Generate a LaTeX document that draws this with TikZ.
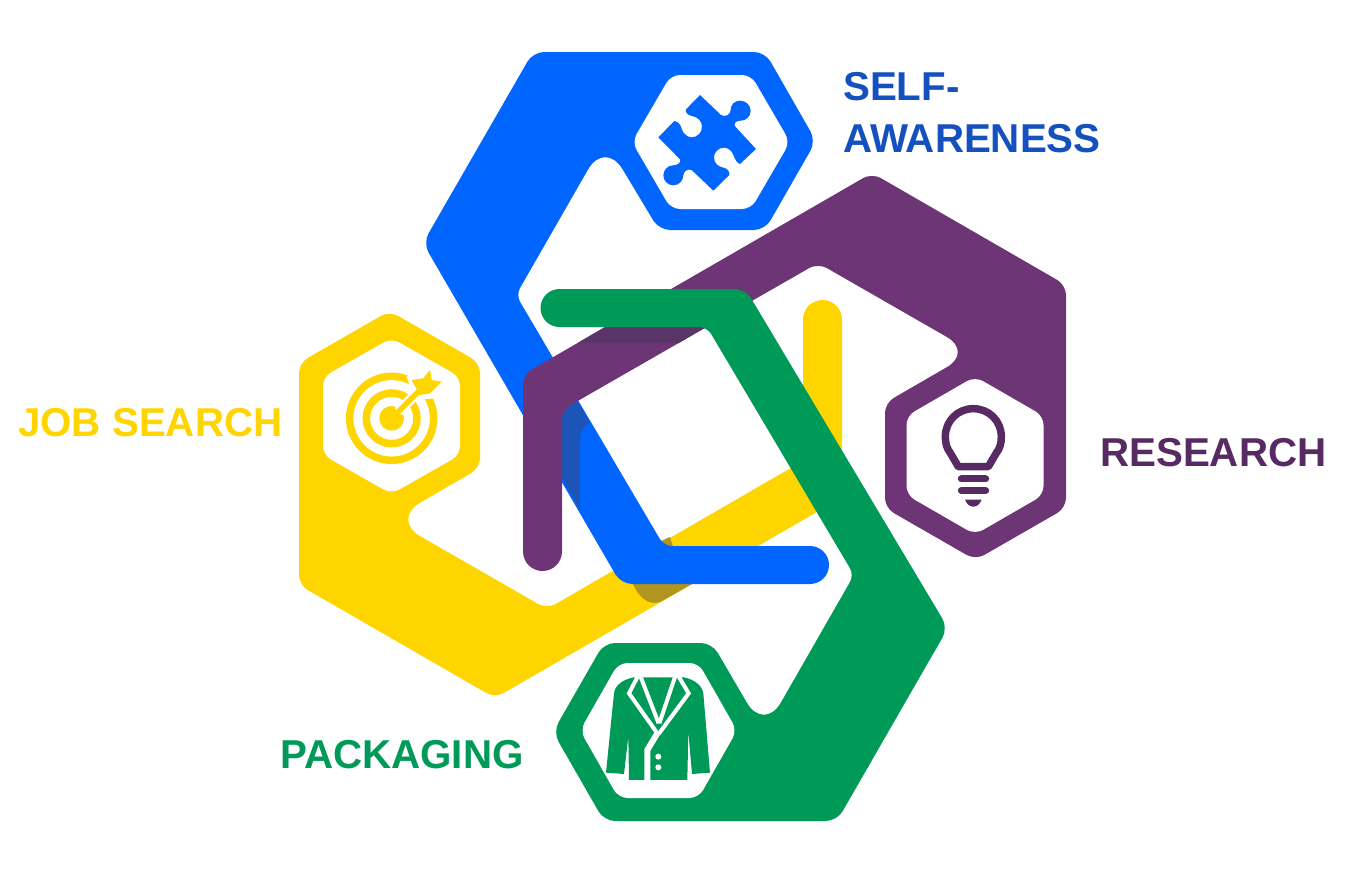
\documentclass[tikz,border=0pt]{standalone}
\usepackage{fontspec}
\setmainfont{Liberation Sans}
\definecolor{cblue}{HTML}{0066FF}
\definecolor{cblued}{HTML}{1C54B8}
\definecolor{cpurple}{HTML}{6D3575}
\definecolor{cpurpled}{HTML}{5A3568}
\definecolor{cyellow}{HTML}{FFD500}
\definecolor{cyellowd}{HTML}{B09520}
\definecolor{cgreen}{HTML}{009A58}
\definecolor{tblue}{HTML}{1450BE}
\definecolor{tpurple}{HTML}{572A63}
\tikzset{
  lab/.style={anchor=base west,inner sep=0pt,font=\fontsize{40.3}{41}\selectfont\bfseries},
  hole/.style={fill=white,rounded corners=9pt},
}
\begin{document}
\begin{tikzpicture}[x=1pt,y=-1pt]
\useasboundingbox (0,0) rectangle (1366,870);
% YELLOW
\fill[cyellow] (822.5,319.5) [rounded corners=0pt] -- (842,319.5) -- (842,497.5)
  [rounded corners=10pt] -- (495,698) -- (299,585) -- (299,363) -- (389.5,311) -- (480,363) -- (480,468)
  [rounded corners=34pt] -- (391,519.5)
  [rounded corners=10pt] -- (547,609)
  [rounded corners=0pt] -- (803,461) -- (803,319.5) -- cycle;
\fill[cyellow] (822.5,319.5) circle[radius=19.5];
\fill[hole] (391.5,338) -- (460,377) -- (460,455) -- (391.5,494) -- (323,455) -- (323,377) -- cycle;
\fill[cyellowd] (633,584) .. controls (638,596) and (648,606) .. (660,602) -- (693,583.5) -- cycle;
\fill[cyellowd] (661,541) -- (670,537) -- (673,547) -- (665,547) -- cycle;
% BLUE
\fill[cblue] (810,546) [rounded corners=0pt] -- (810,584)
  [rounded corners=11pt] -- (621,584) -- (423,243) -- (533,52) -- (765,52) -- (816,141) -- (765,230) -- (659,230)
  [rounded corners=34pt] -- (605,140)
  [rounded corners=8pt] -- (516,295) -- (664,546)
  [rounded corners=0pt] -- cycle;
\fill[cblue] (810,565) circle[radius=19];
\fill[hole] (671,75) -- (751,75) -- (790,142) -- (751,209) -- (671,209) -- (632,142) -- cycle;
\fill[cblued] (562,478) -- (562,415) .. controls (562,408) and (570,404) .. (577.5,401) -- (590,423)
  .. controls (584,426) and (580,431) .. (580,438) -- (580,510) -- cycle;
% PURPLE
\fill[cpurple] (523,552) [rounded corners=10pt] -- (523,374.5) -- (872,173) -- (1066,285) -- (1066,508)
  -- (975.5,560) -- (885,508) -- (885,403)
  [rounded corners=30pt] -- (973,352)
  [rounded corners=10pt] -- (818,263) -- (562,410)
  [rounded corners=0pt] -- (562,552) -- cycle;
\fill[cpurple] (542.5,551.5) circle[radius=19.5];
\fill[hole] (975,376.5) -- (1043.5,416) -- (1043.5,495) -- (975,534.5) -- (906.5,495) -- (906.5,416) -- cycle;
\fill[cpurpled] (605,327) -- (706,327) -- (679,343) -- (577.6,343) -- cycle;
% GREEN
\fill[cgreen] (559.5,289) [rounded corners=11pt] -- (745.5,289) -- (948,628) -- (837,821) -- (604,821) -- (553,732) -- (604,643) -- (712,643)
  [rounded corners=34pt] -- (764,732)
  [rounded corners=8pt] -- (854,575) -- (707,327)
  [rounded corners=0pt] -- (559.5,327) -- cycle;
\fill[cgreen] (559.5,308) circle[radius=19];
\fill[hole] (618.5,663) -- (698.5,663) -- (737,730.5) -- (698.5,798) -- (618.5,798) -- (580,730.5) -- cycle;
% puzzle
\begin{scope}[shift={(620,60)},scale=0.3333]
\fill[cblue] (240,105) -- (303,165) .. controls (315,172) and (332,165) .. (332,150)
  .. controls (332,133) and (345,122) .. (360,122) .. controls (378,122) and (392,136) .. (392,152)
  .. controls (392,170) and (378,182) .. (362,182) .. controls (350,182) and (338,190) .. (346,200)
  -- (408,267) -- (360,312) .. controls (348,308) and (345,295) .. (340,285)
  .. controls (335,270) and (322,263) .. (312,263) .. controls (295,263) and (282,277) .. (282,292)
  .. controls (282,310) and (295,320) .. (310,323) .. controls (322,325) and (330,335) .. (328,345)
  -- (280,392) -- (215,330) .. controls (203,325) and (190,335) .. (190,346)
  .. controls (190,362) and (177,376) .. (160,376) .. controls (143,376) and (130,362) .. (130,346)
  .. controls (130,330) and (143,316) .. (160,316) .. controls (172,316) and (185,308) .. (180,298)
  -- (115,232) -- (163,183) .. controls (175,185) and (183,195) .. (185,207)
  .. controls (190,222) and (203,232) .. (215,232) .. controls (232,232) and (246,218) .. (246,200)
  .. controls (246,183) and (232,170) .. (215,168) .. controls (205,166) and (195,158) .. (198,148) -- cycle;
\end{scope}
% target
\begin{scope}[shift={(310,330)},scale=0.3333]
\draw[cyellow,line width=7.5pt] (245,265) circle[radius=126];
\draw[cyellow,line width=7.5pt] (245,265) circle[radius=76];
\fill[cyellow] (245,265) circle[radius=37];
\draw[white,line width=10pt] (265,245) -- (350,160);
\fill[white] (290,140) -- (365,105) -- (415,150) -- (375,205) -- (315,210) -- cycle;
\draw[cyellow,line width=5.5pt] (245,265) -- (350,160);
\fill[cyellow] (305,150) -- (340,145) -- (360,120) -- (365,150) -- (395,155) -- (360,190) -- (330,195) -- cycle;
\end{scope}
% bulb
\begin{scope}[shift={(890,370)},scale=0.3333]
\draw[tpurple,line width=7.5pt,line join=round] (205,290) -- (181,249)
  .. controls (170,235) and (166,220) .. (166,200)
  .. controls (166,153) and (203,116) .. (250,116)
  .. controls (297,116) and (334,153) .. (334,200)
  .. controls (334,220) and (330,235) .. (319,249) -- (295,290) -- cycle;
\draw[tpurple,line width=7pt,line cap=round] (214,327) -- (287,327);
\draw[tpurple,line width=7pt,line cap=round] (214,362) -- (287,362);
\fill[tpurple] (225,389) -- (275,389) .. controls (270,403) and (260,410) .. (250,410) .. controls (240,410) and (230,403) .. (225,389) -- cycle;
\end{scope}
% jacket
\begin{scope}[shift={(560,640)},scale=0.3333]
\fill[cgreen] (222,112) -- (372,112) .. controls (405,120) and (425,135) .. (430,160) -- (450,398) -- (396,402) -- (385,275) -- (382,420)
  -- (207,420) -- (205,290) -- (192,402) -- (138,398) -- (162,160) .. controls (165,135) and (190,118) .. (222,112) -- cycle;
\draw[white,line width=4pt,line join=miter] (234,108) -- (207,160) -- (292,280);
\draw[white,line width=4pt] (241,108) -- (296,250);
\draw[white,line width=4pt] (355,108) -- (386,160) -- (296,282);
\draw[white,line width=4pt] (346,108) -- (298,250);
\draw[white,line width=6pt] (292,280) -- (262,330) -- (262,425);
\fill[white] (295,350) circle[radius=9];
\fill[white] (295,382) circle[radius=9];
\end{scope}
% labels
\node[lab,text=tblue] (selfa) at (843,100) {SELF-};
\node[lab,text=tblue] (selfb) at (843,152) {AWARENESS};
\node[lab,text=tpurple] (research) at (1100,466) {RESEARCH};
\node[lab,text=cyellow] (job) at (18,436) {JOB SEARCH};
\node[lab,text=cgreen] (packaging) at (280,768) {PACKAGING};
\end{tikzpicture}
\end{document}
